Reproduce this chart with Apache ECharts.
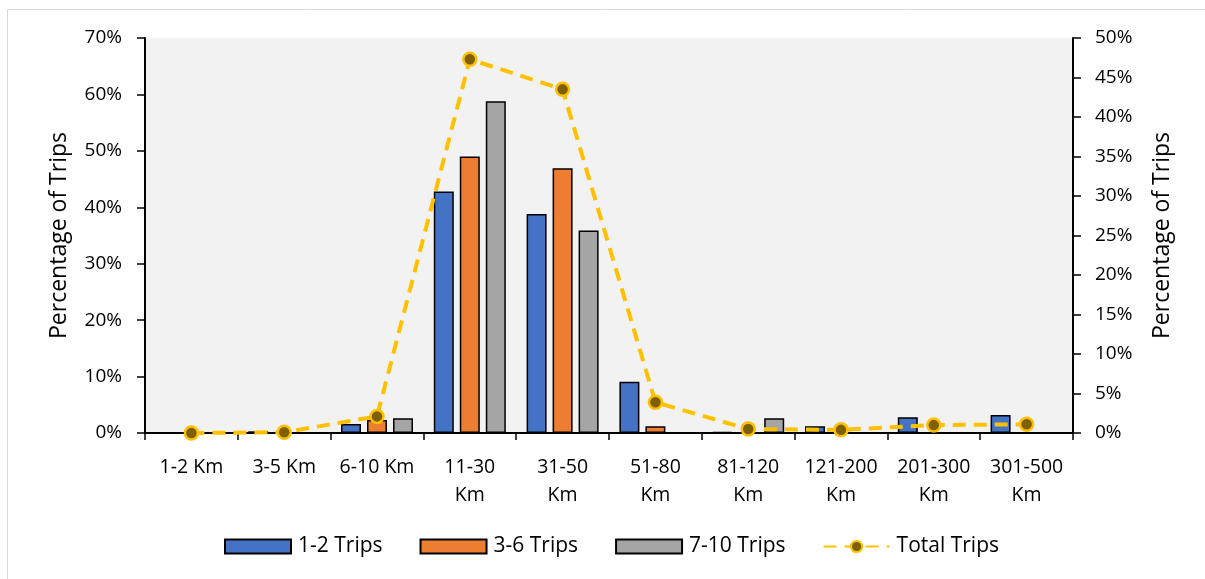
<!DOCTYPE html>
<html><head><meta charset="utf-8">
<script src="https://cdn.jsdelivr.net/npm/echarts@6/dist/echarts.min.js"></script>
<style>html,body{margin:0;padding:0;background:#fff}#c{width:1205px;height:579px}</style>
</head><body><div id="c"></div>
<script>
const categories = ['1-2 Km','3-5 Km','6-10 Km','11-30\nKm','31-50\nKm','51-80\nKm','81-120\nKm','121-200\nKm','201-300\nKm','301-500\nKm'];
const trips12 = [0, 0.3, 1.6, 42.8, 38.8, 9.1, 0.2, 1.2, 2.8, 3.2];
const trips36 = [0, 0, 2.3, 49.0, 46.9, 1.2, 0, 0, 0, 0];
const trips710 = [0, 0, 2.6, 58.8, 35.9, 0, 2.6, 0, 0, 0];
const totalTrips = [0, 0.1, 2.1, 47.3, 43.5, 3.9, 0.5, 0.4, 1.0, 1.1];
const leftTicks = [0,10,20,30,40,50,60,70];
const rightTicks = [0,5,10,15,20,25,30,35,40,45,50];

const font = 'Open Sans';
const chart = echarts.init(document.getElementById('c'));
const barStyle = c => ({color: c, borderColor: '#000', borderWidth: 1.5});
chart.setOption({
  animation: false,
  textStyle: {fontFamily: font},
  graphic: [{type:'rect', shape:{x:7.5,y:9.5,width:1220,height:600}, style:{fill:'none', stroke:'#d9d9d9', lineWidth:1}, z:-10}],
  grid: {left: 145, right: 132, top: 38, bottom: 146, show: true, backgroundColor: '#f2f2f2', borderWidth: 0},
  legend: {
    bottom: 17, left: 219, itemGap: 37, itemWidth: 66, itemHeight: 14,
    textStyle: {fontFamily: font, fontSize: 21, color: '#000', padding: [0, 0, 0, 2]},
    data: [
      {name:'1-2 Trips', icon:'rect'},
      {name:'3-6 Trips', icon:'rect'},
      {name:'7-10 Trips', icon:'rect'},
      {name:'Total Trips'}
    ]
  },
  xAxis: {
    type: 'category', data: categories,
    axisLine: {lineStyle: {color: '#000', width: 2}},
    axisTick: {show: true, length: 7, lineStyle: {color: '#000', width: 1.5}},
    axisLabel: {color: '#000', fontSize: 19.5, fontFamily: font, margin: 20, lineHeight: 28, interval: 0}
  },
  yAxis: [{
    type: 'value', min: 0, max: 70, interval: 10, position: 'left',
    name: 'Percentage of Trips', nameLocation: 'middle', nameGap: 74,
    nameTextStyle: {fontSize: 23, color: '#000', fontFamily: font},
    axisLine: {show: true, lineStyle: {color: '#000', width: 2}},
    axisTick: {show: true, length: 8, lineStyle: {color: '#000', width: 1.5}},
    axisLabel: {color: '#000', fontSize: 19, fontFamily: font, margin: 23, formatter: v => leftTicks.includes(v) ? v + '%' : ''},
    splitLine: {show: false}
  }, {
    type: 'value', min: 0, max: 50, interval: 5, position: 'right',
    name: 'Percentage of Trips', nameLocation: 'middle', nameGap: 78, nameRotate: 90,
    nameTextStyle: {fontSize: 23, color: '#000', fontFamily: font},
    axisLine: {show: true, lineStyle: {color: '#000', width: 2}},
    axisTick: {show: true, length: 8, lineStyle: {color: '#000', width: 1.5}},
    axisLabel: {color: '#000', fontSize: 19, fontFamily: font, margin: 22, formatter: v => rightTicks.includes(v) ? v + '%' : ''},
    splitLine: {show: false}
  }],
  series: [
    {name:'1-2 Trips', type:'bar', data: trips12, barWidth: 20, barGap: '30%', itemStyle: barStyle('#4472C4')},
    {name:'3-6 Trips', type:'bar', data: trips36, barWidth: 20, barGap: '30%', itemStyle: barStyle('#ED7D31')},
    {name:'7-10 Trips', type:'bar', data: trips710, barWidth: 20, barGap: '30%', itemStyle: barStyle('#A5A5A5')},
    {name:'Total Trips', type:'line', yAxisIndex: 1, data: totalTrips, symbol:'circle', symbolSize: 13,
     lineStyle: {color:'#FFC000', width: 4, type: [13, 8]},
     itemStyle: {color:'#7F6000', borderColor:'#FFC000', borderWidth: 2.5}, z: 5}
  ]
});
</script></body></html>
